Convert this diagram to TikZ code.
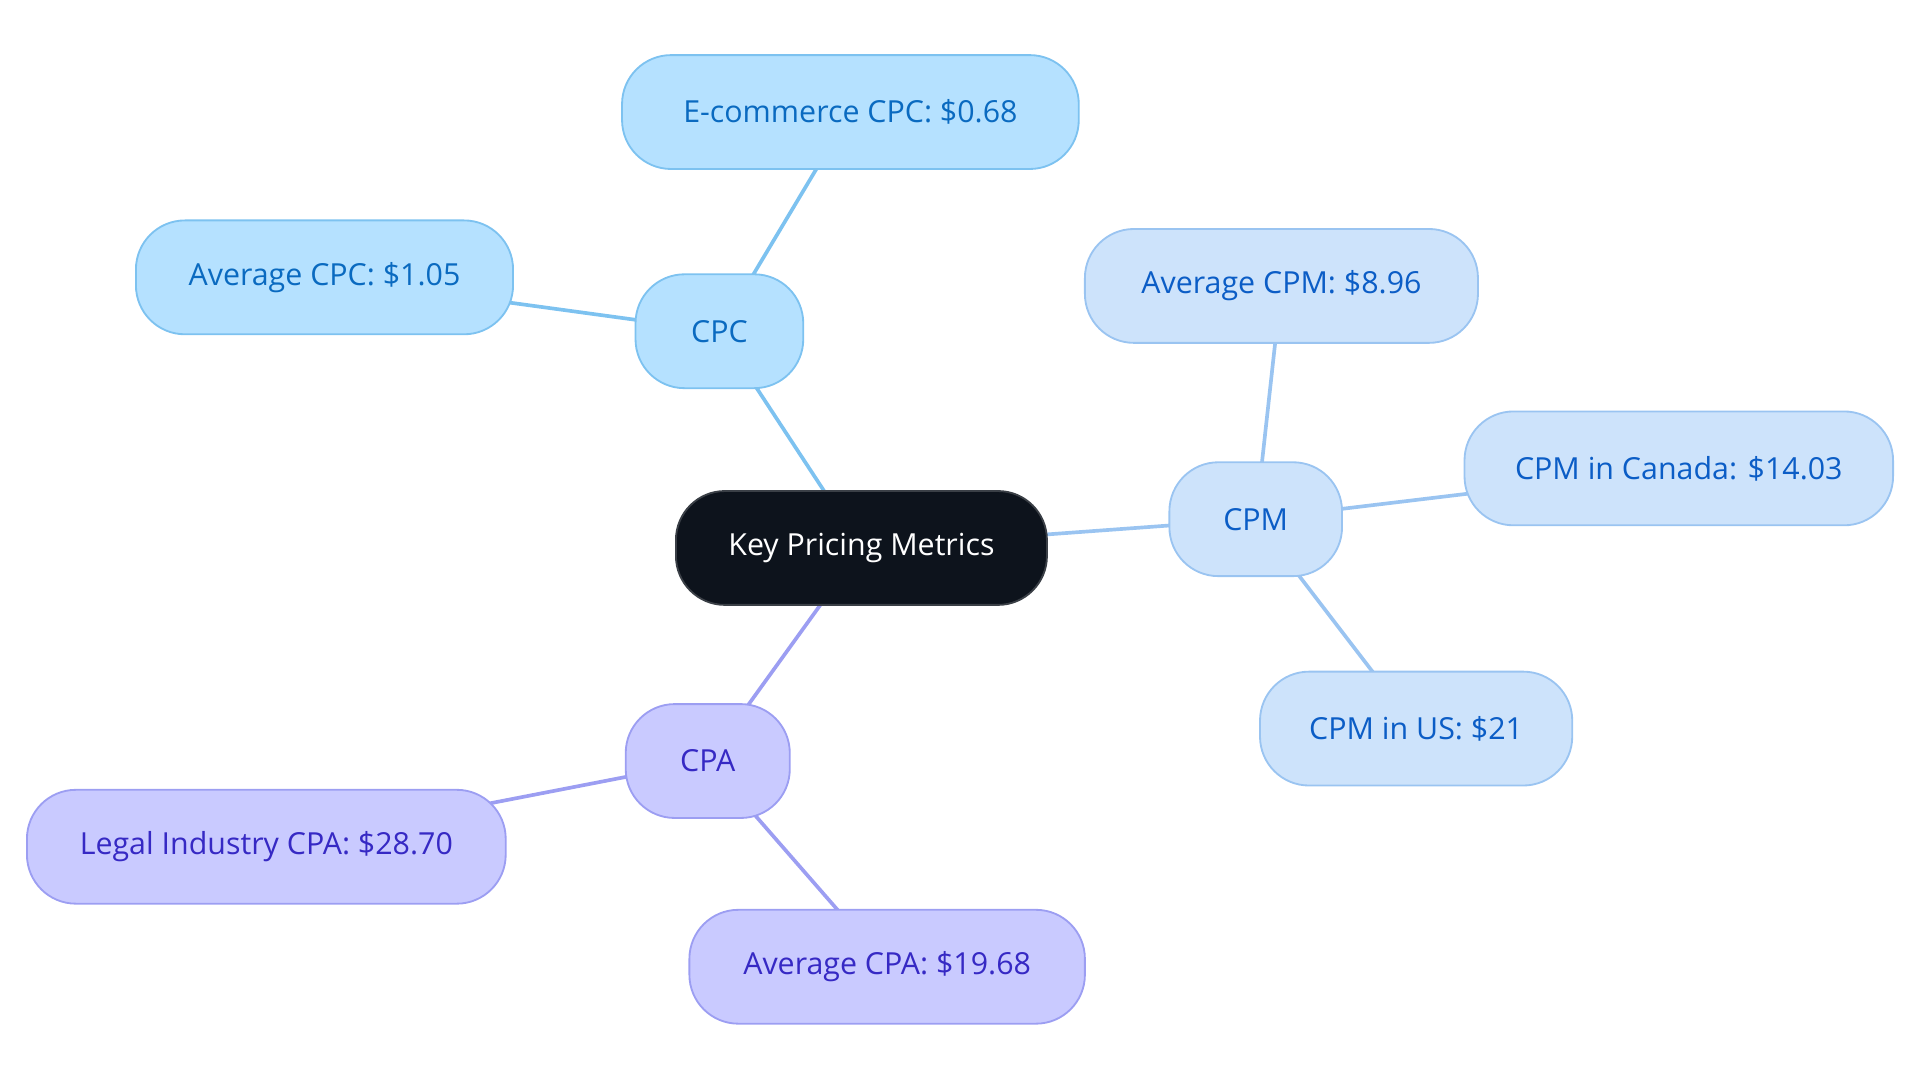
\documentclass[tikz,border=0pt]{standalone}
\usepackage{fontspec}
\setmainfont{Open Sans}
\usetikzlibrary{backgrounds}
\definecolor{rootfill}{HTML}{0D131C}
\definecolor{rootdraw}{HTML}{3A3F46}
\definecolor{cpcfill}{HTML}{B5E1FF}
\definecolor{cpcdraw}{HTML}{7DC2F0}
\definecolor{cpctext}{HTML}{0A6AC0}
\definecolor{cpmfill}{HTML}{CDE3FB}
\definecolor{cpmdraw}{HTML}{9AC4F1}
\definecolor{cpmtext}{HTML}{0B5DC6}
\definecolor{cpafill}{HTML}{C9CAFF}
\definecolor{cpadraw}{HTML}{9C9EF2}
\definecolor{cpatext}{HTML}{3629C4}
\tikzset{
  pill/.style={rounded corners=40pt, line width=1.5pt, minimum height=93pt, inner sep=0pt, align=center, font=\fontsize{24.8}{28}\selectfont},
  rootbox/.style={pill, fill=rootfill, draw=rootdraw, text=white},
  cpcbox/.style={pill, fill=cpcfill, draw=cpcdraw, text=cpctext},
  cpmbox/.style={pill, fill=cpmfill, draw=cpmdraw, text=cpmtext},
  cpabox/.style={pill, fill=cpafill, draw=cpadraw, text=cpatext},
  cpcline/.style={draw=cpcdraw, line width=3pt},
  cpmline/.style={draw=cpmdraw, line width=3pt},
  cpaline/.style={draw=cpadraw, line width=3pt},
}
\begin{document}
\begin{tikzpicture}[x=1pt,y=-1pt]
\useasboundingbox (0,0) rectangle (1568,884);
\node[rootbox, minimum width=303pt] (root) at (703.5,447.5) {Key Pricing Metrics};
\node[cpcbox, minimum width=137pt] (cpc) at (587.5,270.5) {CPC};
\node[cpcbox, minimum width=373pt] (ecom) at (694.5,91.5) {E-commerce CPC: \$0.68};
\node[cpcbox, minimum width=308pt] (avgcpc) at (265,226.5) {Average CPC: \$1.05};
\node[cpmbox, minimum width=141pt] (cpm) at (1025.5,424) {CPM};
\node[cpmbox, minimum width=321pt] (avgcpm) at (1046.5,233.5) {Average CPM: \$8.96};
\node[cpmbox, minimum width=350pt] (canada) at (1371,382.5) {CPM in Canada: \$14.03};
\node[cpmbox, minimum width=255pt] (us) at (1156.5,595) {CPM in US: \$21};
\node[cpabox, minimum width=134pt] (cpa) at (578,621.5) {CPA};
\node[cpabox, minimum width=391pt] (legal) at (217.5,691.5) {Legal Industry CPA: \$28.70};
\node[cpabox, minimum width=323pt] (avgcpa) at (724.5,789.5) {Average CPA: \$19.68};
\begin{scope}[on background layer]
\draw[cpcline] (root.center) -- (cpc.center);
\draw[cpcline] (cpc.center) -- (ecom.center);
\draw[cpcline] (cpc.center) -- (avgcpc.center);
\draw[cpmline] (root.center) -- (cpm.center);
\draw[cpmline] (cpm.center) -- (avgcpm.center);
\draw[cpmline] (cpm.center) -- (canada.center);
\draw[cpmline] (cpm.center) -- (us.center);
\draw[cpaline] (root.center) -- (cpa.center);
\draw[cpaline] (cpa.center) -- (legal.center);
\draw[cpaline] (cpa.center) -- (avgcpa.center);
\end{scope}
\end{tikzpicture}
\end{document}
